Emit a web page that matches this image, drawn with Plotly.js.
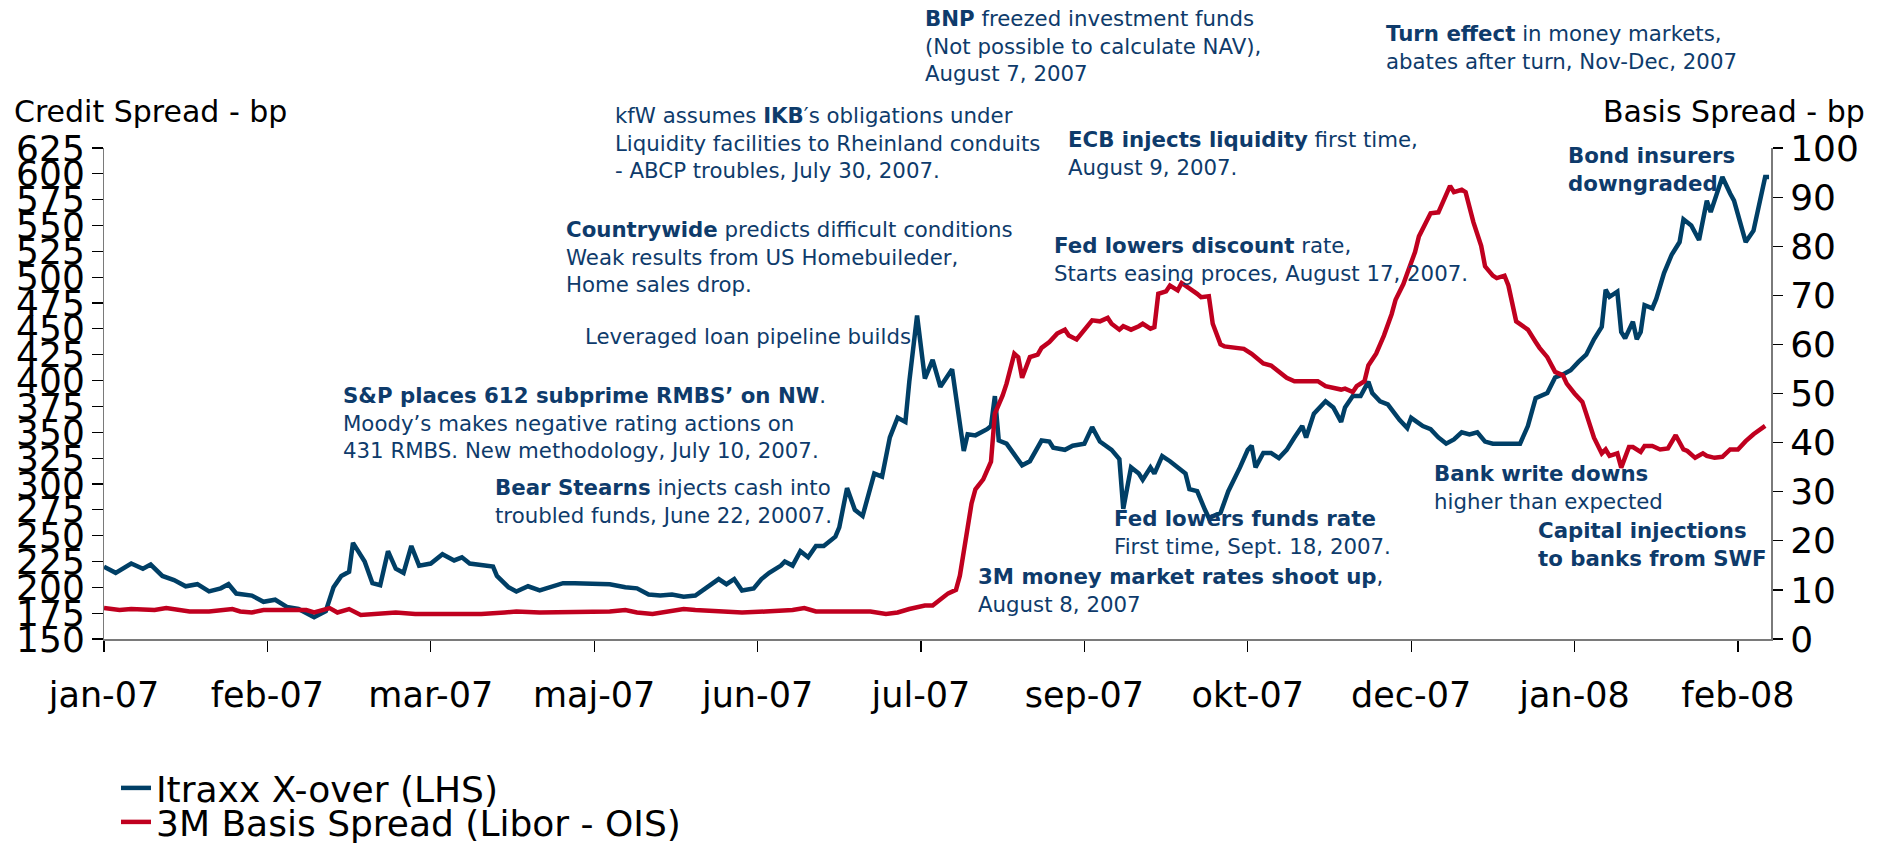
<!DOCTYPE html>
<html>
<head>
<meta charset="utf-8">
<script src="https://cdn.plot.ly/plotly-3.0.1.min.js"></script>
<style>html,body{margin:0;padding:0;background:#fff;}#chart{width:1880px;height:846px;}</style>
</head>
<body>
<div id="chart"></div>
<script>
// ---------------- DATA ----------------
const tickDates = ['2007-01-01','2007-02-12','2007-03-26','2007-05-07','2007-06-18','2007-07-30',
                   '2007-09-10','2007-10-22','2007-12-03','2008-01-14','2008-02-25'];
const tickLabels = ['jan-07','feb-07','mar-07','maj-07','jun-07','jul-07','sep-07','okt-07','dec-07','jan-08','feb-08'];

// Itraxx X-over (LHS), bp
const itraxxDates = [
 '2007-01-01','2007-01-04','2007-01-08','2007-01-11','2007-01-13','2007-01-16','2007-01-19','2007-01-22','2007-01-25','2007-01-28',
 '2007-01-31','2007-02-02','2007-02-04','2007-02-08','2007-02-11','2007-02-14','2007-02-17','2007-02-20','2007-02-24','2007-02-27',
 '2007-03-01','2007-03-03','2007-03-05','2007-03-06','2007-03-09','2007-03-11','2007-03-13','2007-03-15','2007-03-17','2007-03-19',
 '2007-03-21','2007-03-23','2007-03-26','2007-03-29','2007-04-01','2007-04-03','2007-04-05','2007-04-08','2007-04-11','2007-04-12',
 '2007-04-15','2007-04-17','2007-04-20','2007-04-23','2007-04-26','2007-04-29','2007-05-02','2007-05-05','2007-05-08','2007-05-11',
 '2007-05-15','2007-05-18','2007-05-21','2007-05-24','2007-05-27','2007-05-30','2007-06-02','2007-06-05','2007-06-08','2007-06-10',
 '2007-06-12','2007-06-14','2007-06-17','2007-06-19','2007-06-21','2007-06-24','2007-06-25','2007-06-27','2007-06-29','2007-07-01',
 '2007-07-03','2007-07-05','2007-07-08','2007-07-09','2007-07-11','2007-07-13','2007-07-15','2007-07-18','2007-07-20','2007-07-22',
 '2007-07-24','2007-07-26','2007-07-27','2007-07-29','2007-07-31','2007-08-02','2007-08-04','2007-08-07','2007-08-09','2007-08-10',
 '2007-08-11','2007-08-13','2007-08-16','2007-08-17','2007-08-18','2007-08-19','2007-08-21','2007-08-24','2007-08-25','2007-08-27',
 '2007-08-29','2007-08-30','2007-09-01','2007-09-02','2007-09-05','2007-09-07','2007-09-10','2007-09-12','2007-09-14','2007-09-17',
 '2007-09-19','2007-09-20','2007-09-22','2007-09-24','2007-09-25','2007-09-27','2007-09-28','2007-09-30','2007-10-02','2007-10-04',
 '2007-10-06','2007-10-07','2007-10-09','2007-10-11','2007-10-12','2007-10-15','2007-10-17','2007-10-20','2007-10-22','2007-10-23',
 '2007-10-24','2007-10-26','2007-10-28','2007-10-30','2007-11-01','2007-11-03','2007-11-05','2007-11-06','2007-11-08','2007-11-11',
 '2007-11-13','2007-11-15','2007-11-16','2007-11-18','2007-11-20','2007-11-22','2007-11-23','2007-11-25','2007-11-27','2007-11-30',
 '2007-12-02','2007-12-03','2007-12-06','2007-12-08','2007-12-10','2007-12-12','2007-12-14','2007-12-16','2007-12-18','2007-12-20',
 '2007-12-22','2007-12-24','2007-12-26','2007-12-29','2007-12-31','2008-01-02','2008-01-04','2008-01-07','2008-01-09','2008-01-11',
 '2008-01-13','2008-01-15','2008-01-17','2008-01-19','2008-01-21','2008-01-22','2008-01-23','2008-01-25','2008-01-26','2008-01-27',
 '2008-01-29','2008-01-30','2008-01-31','2008-02-01','2008-02-03','2008-02-04','2008-02-06','2008-02-08','2008-02-10','2008-02-11',
 '2008-02-13','2008-02-15','2008-02-17','2008-02-18','2008-02-21','2008-02-23','2008-02-24','2008-02-27','2008-02-29','2008-03-03',
 '2008-03-04'];
const itraxxValues = [
 220,214,223,218,222,211,207,201,203,196,
 199,203,194,192,186,188,181,179,171,177,
 200,211,215,243,225,204,202,235,218,214,
 240,221,223,232,226,229,223,221,220,211,
 200,196,201,197,200,204,204,204,204,203,
 200,199,193,192,193,191,192,200,208,203,
 208,197,199,208,214,221,225,221,235,229,
 240,240,249,258,296,275,269,310,307,345,
 364,360,399,463,402,420,394,411,362,332,
 348,347,353,356,385,342,339,324,318,322,
 335,342,341,335,333,337,339,355,341,333,
 324,276,316,310,304,316,310,327,322,316,
 310,295,293,275,267,272,293,316,333,337,
 316,330,330,325,333,345,356,345,368,380,
 374,360,374,385,385,399,388,380,377,362,
 354,364,356,353,345,339,343,350,348,350,
 341,339,339,339,339,356,383,388,403,406,
 410,418,425,440,452,488,481,486,447,441,
 457,440,447,473,470,479,504,522,534,556,
 550,536,574,563,597,581,574,534,545,597,
 597];

// 3M Basis Spread (Libor - OIS), bp (RHS)
const basisDates = [
 '2007-01-01','2007-01-05','2007-01-08','2007-01-11','2007-01-14','2007-01-17','2007-01-20','2007-01-23','2007-01-28','2007-01-31',
 '2007-02-03','2007-02-05','2007-02-08','2007-02-11','2007-02-17','2007-02-22','2007-02-24','2007-02-28','2007-03-02','2007-03-05',
 '2007-03-08','2007-03-11','2007-03-14','2007-03-17','2007-03-22','2007-03-26','2007-04-01','2007-04-08','2007-04-14','2007-04-17',
 '2007-04-23','2007-05-02','2007-05-11','2007-05-15','2007-05-18','2007-05-22','2007-05-27','2007-05-30','2007-06-02','2007-06-08',
 '2007-06-14','2007-06-20','2007-06-27','2007-06-30','2007-07-03','2007-07-06','2007-07-12','2007-07-17','2007-07-21','2007-07-24',
 '2007-07-27','2007-07-31','2007-08-02','2007-08-04','2007-08-06','2007-08-08','2007-08-09','2007-08-11','2007-08-12','2007-08-13',
 '2007-08-15','2007-08-17','2007-08-18','2007-08-20','2007-08-21','2007-08-23','2007-08-24','2007-08-25','2007-08-27','2007-08-29',
 '2007-08-30','2007-09-01','2007-09-03','2007-09-05','2007-09-06','2007-09-08','2007-09-10','2007-09-12','2007-09-14','2007-09-16',
 '2007-09-17','2007-09-19','2007-09-20','2007-09-22','2007-09-24','2007-09-25','2007-09-27','2007-09-28','2007-09-29','2007-10-01',
 '2007-10-02','2007-10-04','2007-10-05','2007-10-07','2007-10-09','2007-10-10','2007-10-12','2007-10-13','2007-10-15','2007-10-16',
 '2007-10-19','2007-10-21','2007-10-23','2007-10-24','2007-10-26','2007-10-28','2007-10-30','2007-11-01','2007-11-03','2007-11-06',
 '2007-11-08','2007-11-09','2007-11-11','2007-11-12','2007-11-15','2007-11-16','2007-11-18','2007-11-19','2007-11-21','2007-11-22',
 '2007-11-24','2007-11-26','2007-11-28','2007-11-29','2007-12-01','2007-12-02','2007-12-04','2007-12-05','2007-12-07','2007-12-08',
 '2007-12-10','2007-12-11','2007-12-13','2007-12-14','2007-12-16','2007-12-17','2007-12-19','2007-12-21','2007-12-22','2007-12-24',
 '2007-12-25','2007-12-27','2007-12-28','2007-12-30','2008-01-01','2008-01-02','2008-01-04','2008-01-05','2008-01-07','2008-01-09',
 '2008-01-11','2008-01-12','2008-01-14','2008-01-16','2008-01-17','2008-01-19','2008-01-21','2008-01-22','2008-01-23','2008-01-25',
 '2008-01-26','2008-01-28','2008-01-29','2008-01-31','2008-02-01','2008-02-03','2008-02-05','2008-02-07','2008-02-09','2008-02-11',
 '2008-02-12','2008-02-14','2008-02-16','2008-02-17','2008-02-19','2008-02-21','2008-02-23','2008-02-25','2008-02-27','2008-02-29',
 '2008-03-03'];
const basisValues = [
 6.3,5.9,6.1,6.1,5.9,6.3,5.9,5.6,5.6,5.9,
 6.1,5.6,5.4,5.9,5.9,5.9,5.4,6.3,5.4,6.1,
 4.9,5.1,5.1,5.4,5.1,5.1,5.1,5.1,5.4,5.6,
 5.4,5.4,5.6,5.9,5.4,5.1,5.6,6.1,5.9,5.6,
 5.4,5.6,5.9,6.3,5.6,5.6,5.6,5.6,5.1,5.4,
 6.1,6.8,6.8,8.1,9.3,10.0,12.9,22.7,27.6,30.5,
 32.5,36.1,45.9,49.6,52.0,58.1,57.4,53.2,57.4,57.9,
 59.3,60.5,62.2,63.0,61.8,61.0,63.0,64.9,64.7,65.4,
 64.2,63.0,63.7,63.0,63.7,64.2,63.2,63.5,70.3,70.8,
 72.0,71.0,72.5,71.5,70.3,69.6,69.8,64.2,60.0,59.6,
 59.3,59.1,58.1,57.4,56.1,55.7,54.4,53.2,52.5,52.5,
 52.5,52.5,51.5,51.3,50.8,51.0,50.3,51.5,52.5,55.7,
 58.1,61.8,66.2,69.1,72.3,74.5,78.8,82.0,84.9,86.7,
 86.9,88.6,92.3,91.0,91.5,91.0,84.9,80.1,75.9,74.0,
 73.5,74.0,72.0,64.7,63.7,63.0,60.5,59.3,57.4,54.4,
 53.7,52.0,50.0,48.3,45.9,41.0,37.8,38.6,37.3,37.8,
 34.9,39.1,39.1,38.1,39.3,39.3,38.6,38.8,41.5,38.6,
 38.3,36.9,37.8,37.3,36.9,37.1,38.6,38.6,40.3,41.7,
 43.4];

const leftTicks = [150,175,200,225,250,275,300,325,350,375,400,425,450,475,500,525,550,575,600,625];
const rightTicks = [0,10,20,30,40,50,60,70,80,90,100];

// ---------------- STYLE / LAYOUT ----------------
const FONT = 'DejaVu Sans, Verdana, sans-serif';
const NAVY = '#003f66';
const RED = '#c0001f';
const TXT = '#0e3b6b';
const PLOT = {l:104, t:148, w:1666.7, h:491};
const px = x => (x - PLOT.l) / PLOT.w;
const py = y => (PLOT.t + PLOT.h - y) / PLOT.h;
const xRange = ['2007-01-01', '2008-03-04 12:00'];

const traces = [
  {x: itraxxDates, y: itraxxValues, name: 'Itraxx X-over (LHS)', type: 'scatter', mode: 'lines',
   line: {color: NAVY, width: 4.5}, xaxis: 'x', yaxis: 'y', legend: 'legend'},
  {x: basisDates, y: basisValues, name: '3M Basis Spread (Libor - OIS)', type: 'scatter', mode: 'lines',
   line: {color: RED, width: 4.5}, xaxis: 'x', yaxis: 'y2', legend: 'legend2'}
];

function note(x, y, text) {
  return {xref: 'paper', yref: 'paper', x: px(x), y: py(y), xanchor: 'left', yanchor: 'top',
          align: 'left', showarrow: false, borderpad: 0, text: text,
          font: {family: FONT, size: 21.3, color: TXT}};
}

const annotations = [
  note(924, 5, '<b>BNP</b> freezed investment funds<br>(Not possible to calculate NAV),<br>August 7, 2007'),
  note(1385, 20, '<b>Turn effect</b> in money markets,<br>abates after turn, Nov-Dec, 2007'),
  note(614, 102, 'kfW assumes <b>IKB</b>′s obligations under<br>Liquidity facilities to Rheinland conduits<br>- ABCP troubles, July 30, 2007.'),
  note(1067, 126, '<b>ECB injects liquidity</b> first time,<br>August 9, 2007.'),
  note(565, 216, '<b>Countrywide</b> predicts difficult conditions<br>Weak results from US Homebuileder,<br>Home sales drop.'),
  note(1053, 232, '<b>Fed lowers discount</b> rate,<br>Starts easing proces, August 17, 2007.'),
  note(584, 323, 'Leveraged loan pipeline builds'),
  note(1567, 142, '<b>Bond insurers<br>downgraded</b>'),
  note(342, 382, '<b>S&amp;P places 612 subprime RMBS’ on NW</b>.<br>Moody’s makes negative rating actions on<br>431 RMBS. New methodology, July 10, 2007.'),
  note(494, 474, '<b>Bear Stearns</b> injects cash into<br>troubled funds, June 22, 20007.'),
  note(1113, 505, '<b>Fed lowers funds rate</b><br>First time, Sept. 18, 2007.'),
  note(977, 563, '<b>3M money market rates shoot up</b>,<br>August 8, 2007'),
  note(1433, 460, '<b>Bank write downs</b><br>higher than expected'),
  note(1537, 517, '<b>Capital injections<br>to banks from SWF</b>'),
  {xref: 'paper', yref: 'paper', x: px(12), y: py(112), xanchor: 'left', yanchor: 'middle', showarrow: false,
   text: 'Credit Spread - bp', font: {family: FONT, size: 30, color: '#000'}},
  {xref: 'paper', yref: 'paper', x: px(1601), y: py(112), xanchor: 'left', yanchor: 'middle', showarrow: false,
   text: 'Basis Spread - bp', font: {family: FONT, size: 30, color: '#000'}}
];

const axisCommon = {showgrid: false, zeroline: false, showline: true, linecolor: '#7a7a7a', linewidth: 1.5,
                    tickcolor: '#000', tickwidth: 1.2};

const layout = {
  width: 1880, height: 846, autosize: false,
  margin: {l: PLOT.l, r: 1880 - PLOT.l - PLOT.w, t: PLOT.t, b: 846 - PLOT.t - PLOT.h, pad: 0, autoexpand: false},
  paper_bgcolor: '#fff', plot_bgcolor: '#fff',
  showlegend: true,
  xaxis: Object.assign({}, axisCommon, {type: 'date', range: xRange, tickmode: 'array', tickvals: tickDates,
    ticktext: tickLabels, ticks: 'outside', ticklen: 11, ticklabelstandoff: 13,
    tickfont: {family: FONT, size: 35, color: '#000'}}),
  xaxis2: {type: 'date', range: xRange, overlaying: 'x', anchor: 'y', side: 'bottom', tickmode: 'array',
    tickvals: tickDates, ticks: 'inside', ticklen: 11, tickwidth: 1.2, tickcolor: '#000',
    showticklabels: false, showline: false, showgrid: false, zeroline: false},
  yaxis: Object.assign({}, axisCommon, {range: [150, 625], tickmode: 'array', tickvals: leftTicks,
    ticks: 'outside', ticklen: 10.5, tickfont: {family: FONT, size: 36, color: '#000'}}),
  yaxis2: Object.assign({}, axisCommon, {range: [0, 100], overlaying: 'y', side: 'right', anchor: 'x',
    tickmode: 'array', tickvals: rightTicks, ticks: 'outside', ticklen: 10.5,
    tickfont: {family: FONT, size: 36, color: '#000'}}),
  yaxis3: {range: [150, 625], overlaying: 'y', anchor: 'x', side: 'left', tickmode: 'array', tickvals: leftTicks,
    ticks: 'inside', ticklen: 10.5, tickwidth: 1.2, tickcolor: '#000', showticklabels: false,
    showline: false, showgrid: false, zeroline: false},
  yaxis4: {range: [0, 100], overlaying: 'y', anchor: 'x', side: 'right', tickmode: 'array', tickvals: rightTicks,
    ticks: 'inside', ticklen: 10.5, tickwidth: 1.2, tickcolor: '#000', showticklabels: false,
    showline: false, showgrid: false, zeroline: false},
  legend: {x: px(116), y: py(788), xanchor: 'left', yanchor: 'middle', bgcolor: 'rgba(0,0,0,0)',
    font: {family: FONT, size: 36, color: '#000'}},
  legend2: {x: px(116), y: py(822), xanchor: 'left', yanchor: 'middle', bgcolor: 'rgba(0,0,0,0)',
    font: {family: FONT, size: 36, color: '#000'}},
  annotations: annotations
};

Plotly.newPlot('chart', traces, layout, {displayModeBar: false, staticPlot: true});
</script>
</body>
</html>
